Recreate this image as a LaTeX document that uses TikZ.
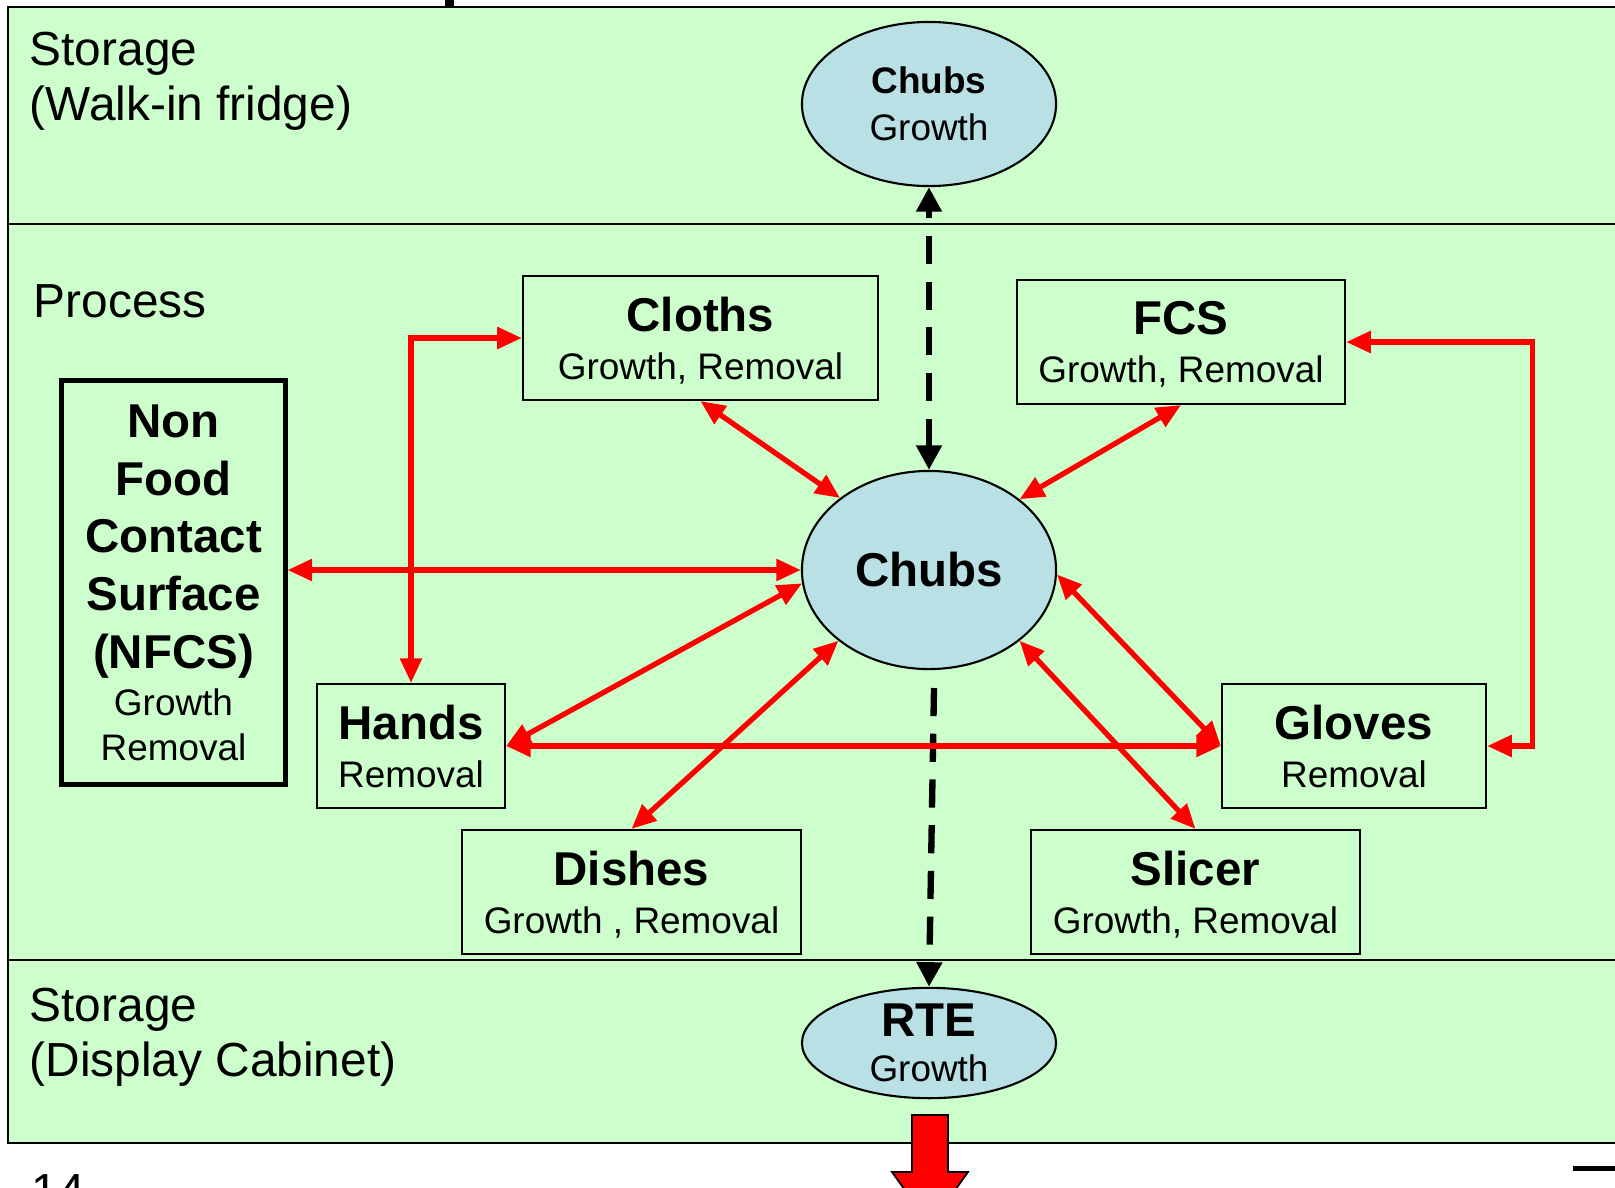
\documentclass[tikz,border=0pt]{standalone}
\usepackage{fontspec}
\setmainfont{Liberation Sans}
\usetikzlibrary{shapes.geometric,arrows.meta}

\definecolor{panelgreen}{RGB}{204,255,204}
\definecolor{chubblue}{RGB}{185,224,228}

\newcommand{\bigtxt}[1]{{\bfseries\fontsize{13.5}{13.5}\selectfont #1}}

\tikzset{
  site/.style={draw=black, line width=0.6pt, fill=panelgreen, align=center, inner sep=0pt,
    minimum height=1.24cm, text depth=0pt, font=\fontsize{10.5}{13.6}\selectfont},
  food/.style={ellipse, draw=black, line width=0.6pt, fill=chubblue, align=center, inner sep=0pt,
    minimum width=2.54cm, font=\fontsize{10.5}{12.8}\selectfont},
  transfer/.style={red, line width=1.5pt,
    {Triangle[length=7pt,width=6pt]}-{Triangle[length=7pt,width=6pt]}},
  flow/.style={black, line width=1.8pt, dash pattern=on 8pt off 5pt,
    -{Triangle[length=7pt,width=7pt]}},
  zone/.style={anchor=north west, align=left, inner sep=0pt, font=\fontsize{13.6}{15.8}\selectfont}
}

\begin{document}
\begin{tikzpicture}[x=0.01cm, y=-0.01cm]
            \useasboundingbox (0,0) rectangle (1615,1187);

            \fill[black] (445,0) rectangle (454,8);
            \filldraw[fill=panelgreen, draw=black, line width=0.6pt] (8,7) rectangle (1630,1143);
            \draw[line width=0.6pt] (8,224) -- (1630,224);
            \draw[line width=0.6pt] (8,960) -- (1630,960);
            \fill[black] (1573,1166) rectangle (1630,1171);

            \node[zone] (fridge) at (29,31) {Storage\\(Walk-in fridge)};
            \node[zone] (process) at (33,284) {Process};
            \node[zone] (cabinet) at (29,987) {Storage\\(Display Cabinet)};
            \node[anchor=base west, inner sep=0pt, font=\fontsize{13.6}{15.8}\selectfont] (page) at (31,1207) {14};

            \node[food, minimum height=1.64cm] (stock) at (929,104) {\textbf{Chubs}\\[0.4pt]Growth};
            \node[food, minimum height=1.98cm] (chubs) at (929,570) {\bigtxt{Chubs}};
            \node[food, minimum height=1.08cm] (rte) at (929,1043) {\bigtxt{RTE}\\Growth};

            \node[site, minimum width=3.55cm] (cloths) at (700.5,338) {\bigtxt{Cloths}\\Growth, Removal};
            \node[site, minimum width=3.28cm] (fcs) at (1181,342) {\bigtxt{FCS}\\Growth, Removal};
            \node[site, line width=1.4pt, minimum width=2.23cm, minimum height=4.03cm,
              font=\fontsize{10.5}{12.6}\selectfont] (nfcs) at (173.5,582.5)
              {\bigtxt{Non}\\[3.8pt]\bigtxt{Food}\\[3.8pt]\bigtxt{Contact}\\[3.8pt]\bigtxt{Surface}\\[3.8pt]\bigtxt{(NFCS)}\\[0.9pt]Growth\\Removal};
            \node[site, minimum width=1.88cm] (hands) at (411,746) {\bigtxt{Hands}\\Removal};
            \node[site, minimum width=2.64cm] (gloves) at (1354,746) {\bigtxt{Gloves}\\Removal};
            \node[site, minimum width=3.39cm] (dishes) at (631.5,892) {\bigtxt{Dishes}\\Growth , Removal};
            \node[site, minimum width=3.29cm] (slicer) at (1195.5,892) {\bigtxt{Slicer}\\Growth, Removal};

            \draw[flow, {Triangle[length=7pt,width=7pt]}-{Triangle[length=7pt,width=7pt]}] (chubs.north) -- (stock.south);
            \coordinate (drop) at (934,688);
            \draw[flow] (drop) -- (rte.north);

            \draw[transfer] (cloths.south) -- (chubs.141);
            \draw[transfer] (fcs.south) -- (chubs.38);
            \draw[transfer] (nfcs.east |- chubs.west) -- (chubs.west);
            \draw[transfer] (hands.east) -- (chubs.186);
            \draw[transfer] (hands.east) -- (gloves.west);
            \draw[transfer] (gloves.west) -- (chubs.-2);
            \draw[transfer] (dishes.north) -- (chubs.218);
            \draw[transfer] (slicer.north) -- (chubs.322);
            \draw[transfer] (cloths.west) -| (hands.north);
            \draw[transfer] (fcs.east) -- ++(186,0) |- (gloves.east);

            \filldraw[fill=red, draw=black, line width=0.5pt] (912,1115) -- (948,1115) -- (948,1172) -- (968,1172)
              -- (930,1225) -- (892,1172) -- (912,1172) -- cycle;
        \end{tikzpicture}
\end{document}
